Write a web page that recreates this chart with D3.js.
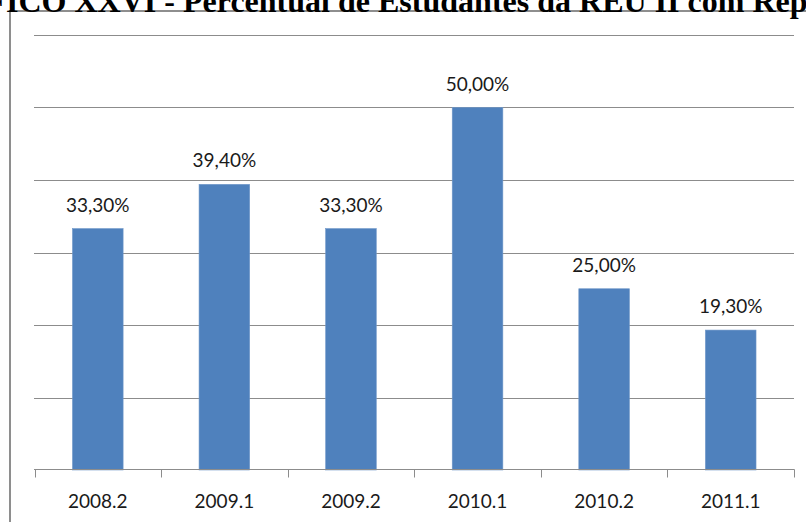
<!DOCTYPE html>
<html>
<head>
<meta charset="utf-8">
<script src="https://cdn.jsdelivr.net/npm/d3@7"></script>
<style>
  html, body { margin: 0; padding: 0; background: #fff; overflow: hidden; }
  svg { display: block; }
</style>
</head>
<body>
<svg id="chart" width="806" height="522"></svg>
<script>
const titleText = "GRÁFICO XXVI - Percentual de Estudantes da REU II com Reprovação";
const categories = ["2008.2", "2009.1", "2009.2", "2010.1", "2010.2", "2011.1"];
const values = [33.3, 39.4, 33.3, 50.0, 25.0, 19.3];
const gridTicks = [10, 20, 30, 40, 50, 60];

const svg = d3.select("#chart");

// outer frame
svg.append("rect")
  .attr("x", 10).attr("y", 11)
  .attr("width", 830).attr("height", 540)
  .attr("fill", "none")
  .attr("stroke", "#8e8e8e")
  .attr("stroke-width", 2);

const x = d3.scaleBand()
  .domain(categories)
  .range([34.5, 794])
  .paddingInner(0.6)
  .paddingOuter(0.3);

const y = d3.scaleLinear().domain([0, 60]).range([470, 35]);

const lineColor = "#8c8c8c";

// gridlines
svg.append("g").selectAll("line")
  .data(gridTicks)
  .join("line")
  .attr("x1", 34).attr("x2", 794)
  .attr("y1", d => Math.round(y(d)) + 0.5)
  .attr("y2", d => Math.round(y(d)) + 0.5)
  .attr("stroke", lineColor)
  .attr("stroke-width", 1);

// bars
svg.append("g").selectAll("rect")
  .data(values)
  .join("rect")
  .attr("x", (d, i) => x(categories[i]))
  .attr("y", d => y(d))
  .attr("width", x.bandwidth())
  .attr("height", d => y(0) - y(d))
  .attr("fill", "#4f81bd")
  .attr("stroke", "#6f97c9")
  .attr("stroke-width", 0.6);

// x axis line and ticks
const x0 = x.range()[0];
const step = x.step();
const axisY = Math.round(y(0)) - 0.5;
svg.append("line")
  .attr("x1", 34).attr("x2", 794.5)
  .attr("y1", axisY).attr("y2", axisY)
  .attr("stroke", lineColor).attr("stroke-width", 1);
svg.append("g").selectAll("line")
  .data(d3.range(categories.length + 1))
  .join("line")
  .attr("x1", i => Math.round(x0 + i * step) + 0.5)
  .attr("x2", i => Math.round(x0 + i * step) + 0.5)
  .attr("y1", axisY).attr("y2", axisY + 8)
  .attr("stroke", lineColor).attr("stroke-width", 1);

const labelFont = "Lato, 'Open Sans', sans-serif";

// category labels
svg.append("g").selectAll("text")
  .data(categories)
  .join("text")
  .attr("x", d => x(d) + x.bandwidth() / 2)
  .attr("y", 508)
  .attr("text-anchor", "middle")
  .attr("font-family", labelFont)
  .attr("font-size", 19)
  .attr("fill", "#1a1a1a")
  .text(d => d);

// value labels
const fmt = v => d3.format(".2f")(v).replace(".", ",") + "%";
svg.append("g").selectAll("text")
  .data(values)
  .join("text")
  .attr("x", (d, i) => x(categories[i]) + x.bandwidth() / 2)
  .attr("y", d => y(d) - 17)
  .attr("text-anchor", "middle")
  .attr("font-family", labelFont)
  .attr("font-size", 19)
  .attr("fill", "#1a1a1a")
  .text(d => fmt(d));

// title (clipped at the top, as in the source)
const title = svg.append("text")
  .attr("y", 12)
  .attr("font-family", "'Liberation Serif', 'Times New Roman', serif")
  .attr("font-weight", "bold")
  .attr("font-size", 26)
  .attr("fill", "#000")
  .text(titleText);
const node = title.node();
const startIdx = titleText.indexOf("ICO");
const endIdx = titleText.indexOf("Reprova") + 2;
const s = node.getStartPositionOfChar(startIdx).x;
const e = node.getStartPositionOfChar(endIdx).x;
const fs = 26 * (790 - 6) / (e - s);
title.attr("font-size", fs);
const s2 = node.getStartPositionOfChar(startIdx).x;
title.attr("x", 6 - s2);
</script>
</body>
</html>
